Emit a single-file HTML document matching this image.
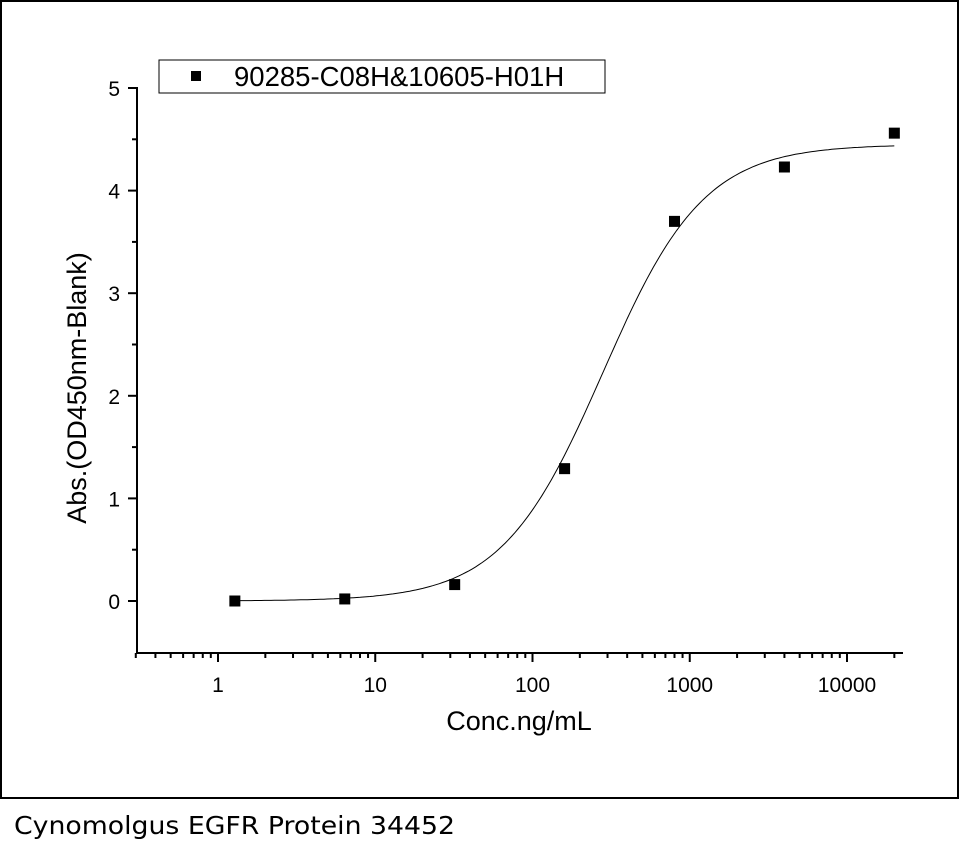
<!DOCTYPE html>
<html><head><meta charset="utf-8"><style>
html,body{margin:0;padding:0;background:#fff;width:960px;height:852px;overflow:hidden}
svg{display:block;font-family:"Liberation Sans",Arial,sans-serif}
</style></head><body>
<svg id="chart" width="960" height="852">
<rect x="1" y="1" width="957" height="797" fill="#fff" stroke="#000" stroke-width="2"/>
<g id="axes"></g>
<g id="curve"></g>
<g id="points"></g>
<g>
<rect x="159" y="60" width="446" height="33" fill="#fff" stroke="#000" stroke-width="1"/>
<rect x="191" y="71" width="10" height="10" fill="#000"/>
<text x="234" y="86" font-size="27.5">90285-C08H&amp;10605-H01H</text>
</g>
<text transform="translate(86,388) rotate(-90)" text-anchor="middle" font-size="27">Abs.(OD450nm-Blank)</text>
<text x="519" y="730" text-anchor="middle" font-size="27">Conc.ng/mL</text>
<text x="14" y="834" font-size="25" textLength="441" lengthAdjust="spacingAndGlyphs" font-family="'DejaVu Sans',sans-serif">Cynomolgus EGFR Protein 34452</text>
</svg>
<script>
const concValues = [1.28, 6.4, 32, 160, 800, 4000, 20000];
const absValues = [0.0, 0.02, 0.16, 1.29, 3.7, 4.23, 4.56];
const xTickValues = [1, 10, 100, 1000, 10000];
const xTickLabels = ["1", "10", "100", "1000", "10000"];
const yTickValues = [0, 1, 2, 3, 4, 5];
const yTickLabels = ["0", "1", "2", "3", "4", "5"];
const fitBottom = 0.0, fitTop = 4.45, fitEC50 = 280, fitHill = 1.35;

const NS = "http://www.w3.org/2000/svg";
const decade = 157.25;
function xs(v){ return 218 + Math.log10(v) * decade; }
function ys(v){ return 601 - v * 102.6; }
function mk(tag, attrs, parent){ const e = document.createElementNS(NS, tag); for (const k in attrs) e.setAttribute(k, attrs[k]); parent.appendChild(e); return e; }

const axes = document.getElementById("axes");
const axisY = 653, axisX = 137;
let el = mk("line", {x1: axisX, y1: axisY, x2: 903, y2: axisY, stroke: "#000", "stroke-width": 2}, axes);


el = mk("line", {x1: axisX, y1: axisY + 1, x2: axisX, y2: ys(5) - 1, stroke: "#000", "stroke-width": 2}, axes);



for (let d = -1; d <= 4; d++) {
  for (let m = 1; m <= 9; m++) {
    const v = m * Math.pow(10, d);
    if (v < 0.3 || v > 20000) continue;
    const major = m === 1;
    const t = mk("line", {x1: xs(v), y1: axisY, x2: xs(v), y2: axisY + (major ? 9 : 5), stroke: "#000", "stroke-width": 2}, axes);
    
    
  }
}
xTickValues.forEach((v, i) => {
  const t = mk("text", {x: xs(v), y: axisY + 39, "text-anchor": "middle", "font-size": 21}, axes);
  t.textContent = xTickLabels[i];
  
  
});
yTickValues.forEach((v, i) => {
  const t = mk("line", {x1: axisX - 9, y1: ys(v), x2: axisX, y2: ys(v), stroke: "#000", "stroke-width": 2}, axes);
  
  
  if (i < yTickValues.length - 1) {
    const m = mk("line", {x1: axisX - 5, y1: ys(v + 0.5), x2: axisX, y2: ys(v + 0.5), stroke: "#000", "stroke-width": 2}, axes);
    
    
  }
  const l = mk("text", {x: axisX - 17, y: ys(v) + 8, "text-anchor": "end", "font-size": 21}, axes);
  l.textContent = yTickLabels[i];
  
  
});

function fit(x){ return fitBottom + (fitTop - fitBottom) / (1 + Math.pow(fitEC50 / x, fitHill)); }
let d = "";
const lo = Math.log10(concValues[0]), hi = Math.log10(concValues[concValues.length - 1]);
for (let i = 0; i <= 200; i++) {
  const x = Math.pow(10, lo + (hi - lo) * i / 200);
  d += (i ? "L" : "M") + xs(x).toFixed(1) + "," + ys(fit(x)).toFixed(1);
}
const curve = mk("path", {d: d, fill: "none", stroke: "#000", "stroke-width": 1}, document.getElementById("curve"));



const pts = document.getElementById("points");
concValues.forEach((c, i) => {
  const p = mk("rect", {x: xs(c) - 5.5, y: ys(absValues[i]) - 5.5, width: 11, height: 11, fill: "#000"}, pts);
  
  
});
</script>
</body></html>
